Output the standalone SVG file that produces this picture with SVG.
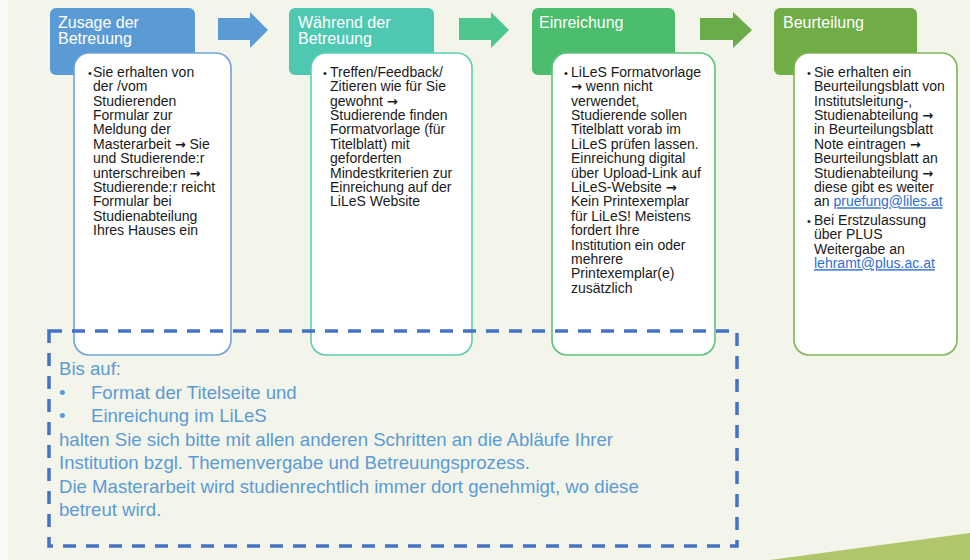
<svg xmlns="http://www.w3.org/2000/svg" width="970" height="560" viewBox="0 0 970 560">
<style>
.hd{font-family:"Liberation Sans",Arial,sans-serif;font-size:16px;fill:#ffffff}
.bd{font-family:"Liberation Sans",Arial,sans-serif;font-size:14px;fill:#1a1a1a}
.bl{font-size:11px}
.ar{font-family:"DejaVu Sans",sans-serif;font-size:13px;font-weight:bold}
.lk{fill:#2f6fd0;text-decoration:underline}
.note{font-family:"Liberation Sans",Arial,sans-serif;font-size:18.6px;fill:#5b9bd5}
.card{fill:#ffffff;stroke-width:1.6}
</style>
<rect x="0" y="0" width="970" height="560" fill="#f3f4ea"/>
<rect x="0" y="0" width="8" height="560" fill="#fafaf6"/>
<polygon points="770,560 970,533 970,560" fill="#afc66a"/>

<g id="connectors">
<polygon points="218,18 250,18 250,12 268,30 250,48 250,40 218,40" fill="#5b9bd5"/>
<polygon points="459,18 491,18 491,12 509,30 491,48 491,40 459,40" fill="#4dc78e"/>
<polygon points="700,18 733,18 733,12 752,30 733,48 733,40 700,40" fill="#6aab4a"/>
</g>

<g id="step1">
<rect x="50" y="8" width="145" height="67" rx="6" fill="#5b9bd5"/>
<text class="hd" x="58" y="28">Zusage der</text>
<text class="hd" x="58" y="44">Betreuung</text>
<rect class="card" x="74" y="53" width="157" height="302" rx="15" stroke="#6fa3d8"/>
<text class="bd" x="88" y="76.7"><tspan class="bl">•</tspan></text>
<text class="bd">
<tspan x="93" y="76.7">Sie erhalten von</tspan>
<tspan x="93" y="91.1">der /vom</tspan>
<tspan x="93" y="105.5">Studierenden</tspan>
<tspan x="93" y="119.9">Formular zur</tspan>
<tspan x="93" y="134.3">Meldung der</tspan>
<tspan x="93" y="148.7">Masterarbeit <tspan class="ar">→</tspan> Sie</tspan>
<tspan x="93" y="163.1">und Studierende:r</tspan>
<tspan x="93" y="177.5">unterschreiben <tspan class="ar">→</tspan></tspan>
<tspan x="93" y="191.9">Studierende:r reicht</tspan>
<tspan x="93" y="206.3">Formular bei</tspan>
<tspan x="93" y="220.7">Studienabteilung</tspan>
<tspan x="93" y="235.1">Ihres Hauses ein</tspan>
</text>
</g>

<g id="step2">
<rect x="289" y="8" width="145" height="67" rx="6" fill="#4fc8b2"/>
<text class="hd" x="298" y="28">Während der</text>
<text class="hd" x="298" y="44">Betreuung</text>
<rect class="card" x="311" y="53" width="161" height="302" rx="15" stroke="#5ccfb2"/>
<text class="bd" x="323" y="76.7"><tspan class="bl">•</tspan></text>
<text class="bd">
<tspan x="330" y="76.7">Treffen/Feedback/</tspan>
<tspan x="330" y="91.1">Zitieren wie für Sie</tspan>
<tspan x="330" y="105.5">gewohnt <tspan class="ar">→</tspan></tspan>
<tspan x="330" y="119.9">Studierende finden</tspan>
<tspan x="330" y="134.3">Formatvorlage (für</tspan>
<tspan x="330" y="148.7">Titelblatt) mit</tspan>
<tspan x="330" y="163.1">geforderten</tspan>
<tspan x="330" y="177.5">Mindestkriterien zur</tspan>
<tspan x="330" y="191.9">Einreichung auf der</tspan>
<tspan x="330" y="206.3">LiLeS Website</tspan>
</text>
</g>

<g id="step3">
<rect x="532" y="8" width="143" height="67" rx="6" fill="#4cbd6c"/>
<text class="hd" x="539" y="28">Einreichung</text>
<rect class="card" x="552" y="53" width="163" height="302" rx="15" stroke="#5cc279"/>
<text class="bd" x="564" y="76.7"><tspan class="bl">•</tspan></text>
<text class="bd">
<tspan x="571" y="76.7">LiLeS Formatvorlage</tspan>
<tspan x="571" y="91.1"><tspan class="ar">→</tspan> wenn nicht</tspan>
<tspan x="571" y="105.5">verwendet,</tspan>
<tspan x="571" y="119.9">Studierende sollen</tspan>
<tspan x="571" y="134.3">Titelblatt vorab im</tspan>
<tspan x="571" y="148.7">LiLeS prüfen lassen.</tspan>
<tspan x="571" y="163.1">Einreichung digital</tspan>
<tspan x="571" y="177.5">über Upload-Link auf</tspan>
<tspan x="571" y="191.9">LiLeS-Website <tspan class="ar">→</tspan></tspan>
<tspan x="571" y="206.3">Kein Printexemplar</tspan>
<tspan x="571" y="220.7">für LiLeS! Meistens</tspan>
<tspan x="571" y="235.1">fordert Ihre</tspan>
<tspan x="571" y="249.5">Institution ein oder</tspan>
<tspan x="571" y="263.9">mehrere</tspan>
<tspan x="571" y="278.3">Printexemplar(e)</tspan>
<tspan x="571" y="292.7">zusätzlich</tspan>
</text>
</g>

<g id="step4">
<rect x="774" y="8" width="143" height="67" rx="6" fill="#70ad47"/>
<text class="hd" x="783" y="28">Beurteilung</text>
<rect class="card" x="794" y="53" width="163" height="302" rx="15" stroke="#7db455"/>
<text class="bd" x="807" y="76.7"><tspan class="bl">•</tspan></text>
<text class="bd" x="807" y="225"><tspan class="bl">•</tspan></text>
<text class="bd">
<tspan x="814" y="76.7">Sie erhalten ein</tspan>
<tspan x="814" y="91.1">Beurteilungsblatt von</tspan>
<tspan x="814" y="105.5">Institutsleitung-,</tspan>
<tspan x="814" y="119.9">Studienabteilung <tspan class="ar">→</tspan></tspan>
<tspan x="814" y="134.3">in Beurteilungsblatt</tspan>
<tspan x="814" y="148.7">Note eintragen <tspan class="ar">→</tspan></tspan>
<tspan x="814" y="163.1">Beurteilungsblatt an</tspan>
<tspan x="814" y="177.5">Studienabteilung <tspan class="ar">→</tspan></tspan>
<tspan x="814" y="191.9">diese gibt es weiter</tspan>
<tspan x="814" y="206.3">an <tspan class="lk">pruefung@liles.at</tspan></tspan>
<tspan x="814" y="225">Bei Erstzulassung</tspan>
<tspan x="814" y="239.4">über PLUS</tspan>
<tspan x="814" y="253.8">Weitergabe an</tspan>
<tspan x="814" y="268.2" class="lk">lehramt@plus.ac.at</tspan>
</text>
</g>

<g id="note">
<rect x="49" y="331" width="688" height="215" fill="none" stroke="#4472c4" stroke-width="3.5" stroke-dasharray="13,10"/>
<text class="note">
<tspan x="59" y="375">Bis auf:</tspan>
<tspan x="59" y="398.5">•</tspan><tspan x="91" y="398.5">Format der Titelseite und</tspan>
<tspan x="59" y="422">•</tspan><tspan x="91" y="422">Einreichung im LiLeS</tspan>
<tspan x="59" y="445.5">halten Sie sich bitte mit allen anderen Schritten an die Abläufe Ihrer</tspan>
<tspan x="59" y="469">Institution bzgl. Themenvergabe und Betreuungsprozess.</tspan>
<tspan x="59" y="492.5">Die Masterarbeit wird studienrechtlich immer dort genehmigt, wo diese</tspan>
<tspan x="59" y="516">betreut wird.</tspan>
</text>
</g>
</svg>
